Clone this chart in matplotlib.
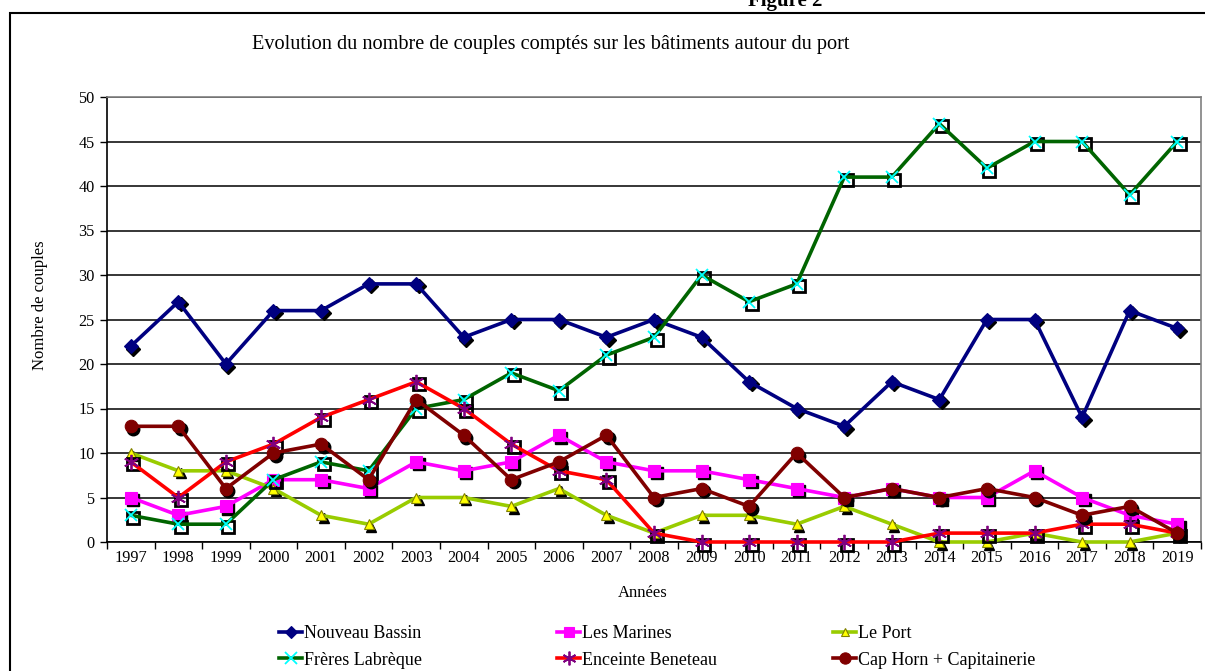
import matplotlib
matplotlib.use('Agg')
import matplotlib.pyplot as plt
import matplotlib.transforms as mtransforms
from matplotlib.patches import Rectangle
import numpy as np

years = [str(y) for y in range(1997, 2020)]

nouveau_bassin = [22, 27, 20, 26, 26, 29, 29, 23, 25, 25, 23, 25, 23, 18, 15, 13, 18, 16, 25, 25, 14, 26, 24]
les_marines = [5, 3, 4, 7, 7, 6, 9, 8, 9, 12, 9, 8, 8, 7, 6, 5, 6, 5, 5, 8, 5, 3, 2]
le_port = [10, 8, 8, 6, 3, 2, 5, 5, 4, 6, 3, 1, 3, 3, 2, 4, 2, 0, 0, 1, 0, 0, 1]
freres_labreque = [3, 2, 2, 7, 9, 8, 15, 16, 19, 17, 21, 23, 30, 27, 29, 41, 41, 47, 42, 45, 45, 39, 45]
enceinte_beneteau = [9, 5, 9, 11, 14, 16, 18, 15, 11, 8, 7, 1, 0, 0, 0, 0, 0, 1, 1, 1, 2, 2, 1]
cap_horn = [13, 13, 6, 10, 11, 7, 16, 12, 7, 9, 12, 5, 6, 4, 10, 5, 6, 5, 6, 5, 3, 4, 1]

series = [
    ('Nouveau Bassin', nouveau_bassin, '#000080', 'D', '#000080', 7),
    ('Les Marines', les_marines, '#FF00FF', 's', '#FF00FF', 8),
    ('Le Port', le_port, '#99CC00', '^', '#FFFF00', 7),
    ('Frères Labrèque', freres_labreque, '#006400', 'x', '#00FFFF', 9),
    ('Enceinte Beneteau', enceinte_beneteau, '#FF0000', (6, 2, 0), '#800080', 11),
    ('Cap Horn + Capitainerie', cap_horn, '#800000', 'o', '#800000', 9),
]

plt.rcParams['font.family'] = ['Liberation Serif', 'DejaVu Serif']

fig = plt.figure(figsize=(12.05, 6.71), dpi=100)
ax = fig.add_axes([107 / 1205, 1 - 542 / 671, 1094 / 1205, 445 / 671])

x = np.arange(len(years))
shadow = mtransforms.offset_copy(ax.transData, fig=fig, x=2.5, y=-2.5, units='dots')

handles = []
for i, (name, vals, lc, mk, mc, ms) in enumerate(series):
    z = 3 + i * 2
    # black drop shadow under the markers
    if mk in ('x', (6, 2, 0)):
        ax.plot(x, vals, linestyle='none', marker='s', markersize=8, markerfacecolor='none',
                markeredgecolor='black', markeredgewidth=2, transform=shadow, zorder=z, clip_on=False)
        h, = ax.plot(x, vals, color=lc, linewidth=2.6, marker=mk, markersize=ms,
                     markeredgecolor=mc, markeredgewidth=1.3, zorder=z + 1, clip_on=False)
    else:
        ax.plot(x, vals, linestyle='none', marker=mk, markersize=ms, color='black',
                transform=shadow, zorder=z, clip_on=False)
        edge = '#808000' if mk == '^' else mc
        h, = ax.plot(x, vals, color=lc, linewidth=2.6, marker=mk, markersize=ms,
                     markerfacecolor=mc, markeredgecolor=edge, markeredgewidth=0.8,
                     zorder=z + 1, clip_on=False)
    h.set_label(name)
    handles.append(h)

ax.set_xlim(-0.5, len(years) - 0.5)
ax.set_ylim(0, 50)
ax.set_yticks(range(0, 51, 5))
ax.yaxis.grid(True, color='black', linewidth=1.1)
ax.set_axisbelow(True)

ax.set_xticks(np.arange(-0.5, len(years), 1))
ax.set_xticklabels([])
ax.set_xticks(x, minor=True)
ax.set_xticklabels(years, minor=True)
ax.tick_params(axis='x', which='major', length=5, width=1, direction='out')
ax.tick_params(axis='x', which='minor', length=0, labelsize=11.7, pad=6)
ax.tick_params(axis='y', length=5, width=1, labelsize=11.7, pad=4)

for s in ['top', 'right']:
    ax.spines[s].set_color('#808080')
    ax.spines[s].set_linewidth(1.2)
for s in ['left', 'bottom']:
    ax.spines[s].set_linewidth(1.2)

ax.set_xlabel('Années', fontsize=12)
ax.xaxis.set_label_coords((643 - 107) / 1094, -(593 - 542) / 445)
ax.xaxis.label.set_va('center')
ax.set_ylabel('Nombre de couples', fontsize=12)
ax.yaxis.set_label_coords(-(107 - 40) / 1094, (542 - 305) / 445)
ax.yaxis.label.set_va('center')

fig.text(551 / 1205, 1 - 45 / 671, 'Evolution du nombre de couples comptés sur les bâtiments autour du port',
         ha='center', va='center', fontsize=14.6)
fig.text(785 / 1205, 1 - 6 / 671, 'Figure 2', ha='center', va='baseline', fontsize=15, fontweight='bold')

# legend: three columns of two entries
cols = [(handles[0], handles[3]), (handles[1], handles[4]), (handles[2], handles[5])]
col_x = [279, 557, 833]
for cx, hs in zip(col_x, cols):
    fig.legend(handles=list(hs), loc='upper left', bbox_to_anchor=(cx / 1205, 1 - 625.5 / 671),
               frameon=False, fontsize=13, handlelength=1.3, handletextpad=0.08,
               labelspacing=0.5, borderaxespad=0, borderpad=0, markerscale=0.9)

fig.add_artist(Rectangle((10 / 1205, -0.1), 1.1, 1 - 13 / 671 + 0.1, transform=fig.transFigure,
                         fill=False, edgecolor='black', linewidth=1.5, clip_on=False))

fig.savefig('out.png', dpi=100)
